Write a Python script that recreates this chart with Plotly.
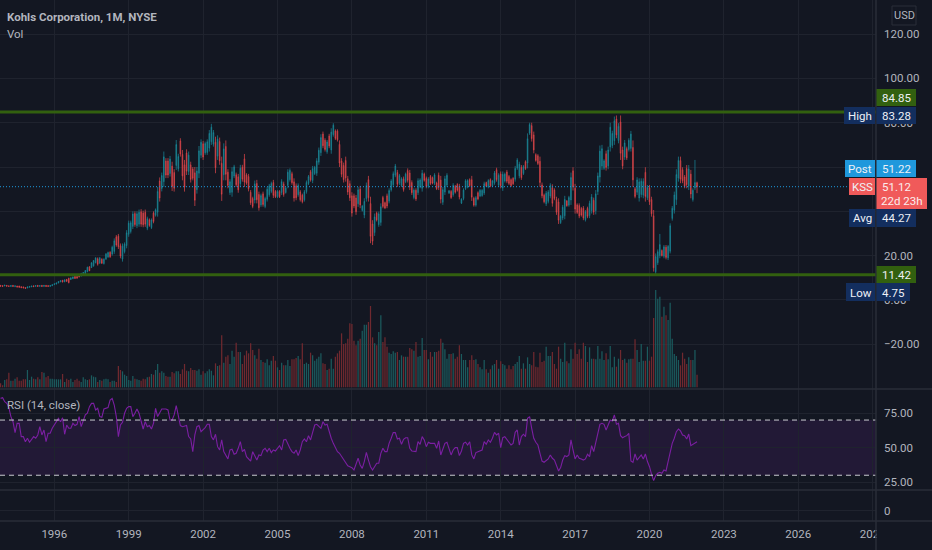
import plotly.graph_objects as go

# monthly bars, Nov 1993 - Dec 2021
high = [6.7,6.6,6.8,6.7,6.5,6.6,6.7,6.5,6.4,6.4,6.1,6.0,5.7,6.0,6.2,6.4,6.5,6.6,6.7,6.6,6.7,6.7,6.7,6.6,6.6,7.0,
 7.4,7.8,8.4,8.8,9.0,9.2,9.4,10,10.2,10.6,10.8,10.8,11.5,12.2,12.6,13.5,15,15.2,17,18,19.2,
 19.2,19.4,18.8,18.8,21.2,21.8,22,24.5,27.8,29.3,29.8,25.5,25.5,26,31.5,35.8,35.8,40,40,40,40.8,41,40.3,40.8,37.6,36.8,36.8,40,41.3,51,55.3,57.5,67,64,64,65,62.4,59,72.2,66,73,67.7,63.2,68,67,62.4,60,60,60,69.5,72.5,71.8,71.5,72.5,76.7,79.5,76.7,73.7,74.3,73.3,64.7,70.7,72,59,54.5,59.9,61,57.5,56.9,61,61,65.9,57.2,56.9,49.6,46.6,53.9,54.2,48.9,48,48.9,46.6,51,52.4,53.4,54.2,49.6,49.6,49.6,54.5,53.4,51,59,59.4,57.9,54.9,52.6,52.6,49.6,48,49.6,53.9,56.4,
 58.7,60.5,60.5,64,68.8,74.8,76,73,72.2,75,77.5,79.8,77,77,72,64,62,64.7,56,53.9,48.6,48,47.4,51,51.5,42.9,45.9,53,56,46.6,36,39,39.9,39.9,43.6,47,44.4,48,50.4,54.5,58,61.4,58.7,56.9,55.4,55.7,57.5,59.4,58.7,54,50.4,50.4,54.9,54.9,58.7,57.5,55.7,55.4,56.4,55.7,57.2,53.4,57.5,56,51,56,57.2,49.6,49.6,52.7,51.9,52.7,52.4,45.9,50.4,54.5,54.5,54.9,56,46.6,46.9,49,50,50,53.4,53.4,54.5,54.9,54.2,58.2,59.7,57.2,58,58,57.5,58.7,56.4,54.9,55.4,60.5,64,62.4,60.9,60.9,63,75.2,80,80,76,66.2,65.8,64.7,53,48,49.2,49.6,52.7,52.2,50.4,46.6,45.9,38.4,42.9,47,45.1,47,57.5,59.9,52.4,43.6,43.6,42,42.4,40.6,42.1,44.8,47.8,46.2,49.6,57.5,69.7,70,63.5,67.4,69.2,80,76.4,82.8,83.28,79.8,83.28,69.2,72.2,69.2,73,76.3,72,51,55.4,54.9,54.9,54.9,59.9,51.9,51.9,46.6,40.6,21,22.8,29.8,22.8,24.8,24.8,24.8,34.6,42.4,48.9,59,64.7,64.7,59.9,56.4,60.9,60.9,58.7,50.4,63.2,53.4]
low = [6.0,6.0,6.2,6.1,6.0,5.9,6.0,5.8,5.7,5.6,5.4,5.3,5.1,5.3,5.6,5.8,5.9,6.0,6.0,6.0,6.0,6.0,6.0,6.0,6.0,6.3,
 6.8,7.0,7.5,8.0,7.9,8.0,8.2,7.5,9.0,9.4,9.5,9.6,10.2,10.6,11,11.2,12.5,13,14.4,15,16.5,
 15.5,16.2,16.2,16,18,19,19,20,20.8,24,23,18.8,17.3,21,23.3,28.5,30,32,33,32.4,33,33,32.8,33,31.5,33,32,34.6,37.6,37.6,44.4,49,51,55,55,55.7,49.2,48.9,58.7,58,64.7,54,48.9,56.4,56.4,53,54,42.4,48,55,64,63.2,65.5,65.5,67,70,69.2,57.2,63.2,61,44.7,54,54,50.4,47.4,46.6,55,51,48.4,51,53.4,51,52,49,42.9,41.4,43.6,43.6,40.3,42,42.1,41.4,44.4,46.6,48.2,46,46,46,46,47.4,46.6,48,50.4,53.4,52,44.4,45,46.6,44.4,43.6,44.4,48,51.9,
 53.4,52.7,56.4,56,61,65,68.5,67,66,68.5,66,73.7,72.2,71.5,60,55.4,53,53.4,47.4,44.7,37.6,41.4,38.4,42,41.4,39.9,36.9,44.4,44.4,25.6,24.8,28.9,35.4,33,33.5,41.4,41,41.4,43.6,48.9,51,55.4,51,51.9,51,48.9,52.7,53,49.6,47.4,45.4,44.7,47.4,50.4,48.9,53.4,50.4,50.4,51.9,52.2,51.9,49.6,49.6,43.6,42.9,47.4,51,47.9,45.6,46.6,48,48.9,45.4,43.3,45,49.6,50.4,51,44.7,42.1,42.1,45,46.4,46.6,47.4,51,50.4,50.9,51,52,53.4,51,50.4,49.2,53,52.7,51.9,51,51.9,53.4,58.7,54.9,54.2,56.4,58.7,59.4,74.5,71.5,66.2,62.4,60.9,51,45.9,43.6,42.4,43.6,45.9,42.1,45,38.4,34.3,34.3,36,36.4,42.1,42.1,42.9,49.4,39,38.8,36.9,37.6,36,35.4,36.9,36.9,39,38.4,38.6,47.4,53,58.7,58.7,58.4,59,67,68.5,70,73,70.7,63.2,59,63.2,63.2,67,67,51,45.9,47.4,44.4,46.3,45.9,44.4,45.1,42.9,37.6,12.8,11.3,15.8,18.8,19.6,18.8,18.3,18,21,35.8,39,42.9,53.4,52.7,52.7,50.4,50.4,49.6,45.9,44.4,49.6,48.2]
open_ = [6.6,6.5,6.3,6.6,6.4,6.1,6.6,6.0,6.3,6.3,6.0,5.9,5.6,5.4,5.7,5.9,6.4,6.1,6.6,6.1,6.6,6.1,6.6,6.5,6.1,6.4,
 6.9,7.2,7.7,8.2,8.9,8.2,9.3,9.8,9.2,9.6,10.6,10.6,11.3,10.8,11.2,11.4,12.8,15,14.6,15.4,16.8,
 18.6,16.7,18.4,16.4,18.5,19.4,21.5,20.7,21.9,28.5,28.8,24.5,18.5,21.8,24.5,29.6,30.9,33.2,39,33.5,34.2,39.8,39.2,39.6,32.4,36.2,32.7,39.2,38.2,39.6,53.7,50.3,53.4,62.7,62.7,57.1,60.4,57.5,60.7,59.2,71.8,65.7,61,66.3,58,61,59.1,57.4,49.8,57.2,65.3,70.5,66.4,66.6,68.5,71.4,70.3,71.2,64.9,71.5,61.7,56.5,69.3,57.7,48.5,48.6,55.9,56.5,55.6,52.5,59.9,63.7,56.4,55.7,48.6,45.8,45.1,52.6,47.6,42.9,47.9,42.2,45.4,47.5,49,53,49,46.6,49,48.5,52.4,48.5,51.7,54.3,57,53.3,51.5,47.5,48.8,47.3,45.2,48.9,52.6,
 57.9,53.9,57,57.2,62.2,66.5,74.9,72.1,66.9,74,67.7,74.6,76.3,76.2,70.2,62.7,60.7,63,54.7,52.5,47,47,46,43.4,50,40.4,38.3,45.7,54.3,43.5,34.3,30.4,39.2,34,35,46.2,43.9,47,44.6,49.7,52,56.3,57.5,52.7,51.7,54.7,53.4,58.4,57.3,53,46.2,49.5,48.5,51.1,50.4,56.9,54.9,51.2,55.7,55.2,52.7,52.8,56.3,54.1,44.1,48.7,51.9,48.2,49,47.5,51.3,52.1,51.3,43.7,45.8,50.3,51,54.3,54.3,45.9,42.8,48.4,46.9,47.1,48.3,53,51,54.3,51.5,52.9,58.8,51.9,56.9,50.5,53.7,57.8,55.7,54.3,54.9,54.5,59.5,56,59.9,57.1,62.4,61.8,75.3,78.7,74.5,65.6,65.1,62.6,51.9,47.3,43.4,44.5,46.9,50.7,49.6,45.4,44.2,34.9,37,38,44.7,42.8,45.1,58.3,50.4,42.9,42.6,41.3,41.4,36.2,41.3,38.1,40.3,45,40.3,48.9,55.5,60.4,59.4,66,60.5,69,69.7,71.9,81.7,72,80.3,67.7,64.5,68.3,67.9,68.4,68.8,50.2,48.6,46,47.6,47.3,57.6,46.1,50.5,45.3,38,12.7,16.8,20,22.3,19.7,23.8,19,22,36.8,40.5,45.3,55,62.9,58.8,55.5,59.3,51.3,56.8,45.3,50.5,52.9]
close = [6.2,6.1,6.7,6.2,6.1,6.5,6.1,6.4,5.8,5.7,5.5,5.4,5.2,5.9,6.1,6.3,6.0,6.5,6.1,6.5,6.1,6.6,6.1,6.1,6.5,6.9,
 7.3,7.7,8.3,8.7,8.1,9.1,8.4,7.8,10,10.4,9.7,9.8,10.4,12,12.4,13.3,14.8,13.2,16.8,17.8,19,
 16.1,18.9,16.6,18.4,20.7,21.4,19.5,23.8,26.7,24.8,24,19.8,24.3,25.2,30.3,34.7,34.9,38.8,34,38.9,39.6,34.2,33.9,34.2,36.7,33.6,36.1,35.4,40.7,49,46,56.2,64.6,56.4,56.4,63.6,51.2,50.4,70.2,64.8,65.9,56,51,58.1,65.4,54.4,54.9,45,58.2,67.3,71.2,64.5,70.6,71.4,75.2,78,75.6,59.7,72.6,62.8,47.7,68.2,56.7,51.7,53.4,57.9,60.1,52,49.7,59.5,54.5,53.2,52.8,50.2,43.9,42.2,52.4,45.2,41.6,47.1,43.1,45.8,50,51.5,52.6,47.2,46.6,49,46.6,53.4,47.6,50.5,57.7,58.5,52.9,46,46.1,51.7,45.2,44.3,48.8,53,55.7,
 54.2,59.3,59.9,62.8,67.6,73.3,69.6,67.9,71.3,69.5,75.8,78.9,72.9,72.3,61.8,56.7,54.3,55.1,48.7,46.1,39.2,42.4,39.8,49.7,42.9,42.4,44.5,51.7,46.1,28.7,26.5,37.5,36.1,38.9,42.1,42.2,41.5,42.4,49.4,53.7,57,60.5,52.2,56.2,54.7,49.9,56.8,54,51,48.4,49.6,45.6,53.8,54.2,57.2,54,51.2,54.6,52.6,52.7,56.4,50.2,50.8,45.5,49.8,54.7,56.3,49.3,46.2,51.8,48.6,49.5,46.5,45.5,49.6,53.8,53.9,51.6,46.4,42.8,46.2,45.6,49.5,49.5,52.5,51.4,53.9,51.5,53.7,57.3,54.3,56.3,51.5,56.7,56.8,53.6,52.6,51.6,52.4,59.4,63.2,61.3,55.2,60.2,59.3,72.8,79.2,72.8,67.7,63,61.6,53,47,44.3,48.2,48.7,51.7,43.6,45.8,39.6,36,37.8,41.9,45.4,42.5,46.3,55.3,51,41,39.5,37.9,38.3,37,39.8,37.7,43.6,46.5,39.6,47.9,56,67.2,68.3,62.8,59.8,67.7,78,75.2,80.9,74.5,78.4,66.2,60.5,70.9,64.1,72.1,74.9,54.2,46.7,54.2,53.3,53.6,53.5,46.7,50.9,44.3,38.9,14.5,19.6,21.8,25,20,24,19.2,24.2,33.5,41.4,47.4,56.6,63,54.5,53.8,51.3,52,59.2,47.8,49.5,53,51.12]
volume = [6,3,11,12,22,10,10,13,15,10,10,12,12,26,11,16,13,12,15,12,23,22,15,17,13,13,
 12,12,12,12,20,8,13,11,13,8,11,13,10,8,15,12,11,12,18,16,15,8,11,10,12,13,12,8,10,10,8,32,26,24,19,17,11,10,17,13,12,11,10,13,12,15,16,20,19,26,35,22,24,22,17,16,16,23,21,24,24,20,27,35,25,24,29,26,26,25,27,19,24,21,24,27,25,18,36,32,33,78,37,46,48,35,55,46,67,53,53,35,48,55,51,66,56,48,43,58,41,38,37,42,33,40,47,40,30,26,37,33,33,41,32,42,42,44,47,42,66,35,37,35,
 52,48,40,43,46,51,36,35,26,28,43,28,46,51,55,81,65,66,73,96,95,70,63,70,73,85,94,94,98,122,75,66,63,83,108,68,75,61,52,50,54,52,53,41,48,46,46,46,59,57,55,68,46,47,74,56,56,42,53,46,53,53,55,73,67,57,43,50,50,51,43,46,63,50,41,41,30,41,48,41,42,35,30,27,41,27,22,27,33,35,41,28,39,35,33,28,33,27,32,35,38,47,28,36,28,45,35,33,53,31,30,52,38,40,61,47,47,53,35,28,61,43,38,67,39,36,57,43,67,50,57,43,67,62,38,60,43,43,42,62,43,54,41,51,42,62,30,46,31,43,56,41,43,37,42,43,43,72,56,38,65,40,40,61,40,46,104,146,133,136,106,121,108,101,127,73,50,47,41,33,52,43,35,45,41,41,56,19]
rsi = [85.7,86.2,83.3,82.1,79.0,72.5,68.8,60.9,67.6,67.6,58,58,54.3,56.8,53.9,55.6,58,56.8,59.2,65.2,
 59.2,62.8,54.3,60.4,60.4,64,66.4,68.4,71.2,68.8,71.7,59.7,66.4,64,64,67.6,66,66.9,72.5,65.2,
 70,73.7,74.9,79.7,82.1,82.1,77.3,78.5,72.5,72,78,78.5,79,84.5,85.7,80.9,72.5,58,66.4,68.4,
 74.9,78.5,79.7,79.7,72.5,74.9,78,74.9,68.8,63.5,68.8,65.2,66,63.5,67.6,78.5,72.5,74.9,78,78,
 78,77.3,70,70,73.7,80.4,73.7,66,65.2,65.7,66,58,56.3,47.1,59.2,65.2,66,61.6,62.8,64.5,
 66.9,66.9,58,55.6,59.7,50.7,48.3,55.6,47.1,44.2,41.8,48.3,48.8,45.2,45.9,49.5,54.3,47.1,48.8,43.5,
 41.8,40.3,47.1,44.2,41,44.7,44.2,48.3,49.5,47.1,49.5,46.4,48.3,47.6,49.5,51.4,48.3,55.6,56,52.4,
 49.5,47.1,45.9,48.3,44.2,48.3,54.3,56.3,54.3,58.7,55.6,61.1,66.4,66.9,65.2,64,68.8,66.4,66.9,61.6,
 56.8,53.1,49.5,47.1,45.9,43.5,41,38.7,36.8,36.2,35.5,33.8,38.7,42.3,37.4,35,39.9,46.6,41,
 36.2,33.8,36.2,38.7,38.7,45.9,49.5,47.1,47.1,53.1,56.8,60.9,60.9,56.3,56.8,52.4,56,57.2,57.2,49.5,
 47.6,47.6,47.1,54.3,52.4,58,55.6,50.7,53.9,53.1,53.1,53.1,49.5,54.8,44.7,49.5,53.1,53.9,49.5,44.7,
 48.3,50,50,44.2,47.6,53.1,53.9,51.9,54.3,44.7,41.8,46.4,47.1,47.6,48.3,54.3,52.4,55.6,53.9,56.8,
 61.1,59.2,60.4,50,57.2,58,55.6,53.9,51.9,53.1,61.1,62.8,51.9,58,59.7,58,71.2,72.5,64,56.8,
 53.9,51.9,45.9,40.3,39.4,40.3,41.8,44.7,42.3,41,37.4,33.1,35.5,41,44.2,43.5,44.7,55.6,48.3,41.8,
 44.7,42.3,41.8,41,41.8,45.2,43.5,51.4,47.1,53.1,60.4,66.9,67.6,66.9,62.8,66,70,69.3,73.7,66.9,
 67.6,58.7,57.2,58,58.7,60.4,40.3,39.4,45.4,41,42.8,44.7,41.8,45.4,39.9,36.2,30.7,26.1,29.7,
 31.4,32.1,31.4,33.8,33.1,39.9,47.1,53.1,56.8,61.6,63.5,62.1,59.2,58.7,56.3,59.9,51.4,52.4,53.9,54.3]

year_labels = ["1996","1999","2002","2005","2008","2011","2014","2017","2020","2023","2026","2029"]
year_bars = [26,62,98,134,170,206,242,278,314,350,386,422]   # bar number of each January
price_ticks = [120,100,80,60,40,20,0,-20]
# 60 and 40 sit fully behind the Post and Avg tags, so no text for them
price_labels = ["120.00","100.00","80.00","","","20.00","0.00","\u221220.00"]
rsi_ticks = [75,50,25]
rsi_labels = ["75.00","50.00","25.00"]
level_top = 84.85
level_bottom = 11.42
last_price = 51.12

BG = "#131722"
GRID = "#1f232e"
LINE = "#2a2e39"
TXT = "#b2b5be"
TEAL = "#1a8a9c"
RED = "#e5484c"
NAVY = "#132e5e"
GREEN = "#32600f"
FONT = "Roboto"
W, H = 932, 550
PLOT_W = 876

def fy(p):
    return 1 - p / H

def fx(p):
    return p / W

bars = list(range(len(close)))
vol_colors = ["#1b5b5e" if c >= o else "#70292f" for o, c in zip(open_, close)]

fig = go.Figure()
fig.add_trace(go.Bar(x=bars, y=volume, yaxis="y2", width=0.6, marker=dict(color=vol_colors, line=dict(width=0)), hoverinfo="skip"))
fig.add_trace(go.Candlestick(x=bars, open=open_, high=high, low=low, close=close, yaxis="y", whiskerwidth=0,
                             increasing=dict(line=dict(color=TEAL, width=0.7), fillcolor="#1f6b6b"),
                             decreasing=dict(line=dict(color=RED, width=0.7), fillcolor="#8f3a3d")))
fig.add_trace(go.Scatter(x=list(range(len(rsi))), y=rsi, yaxis="y3", mode="lines", line=dict(color="#7b1fa2", width=1.1), hoverinfo="skip"))
fig.add_trace(go.Scatter(x=[0], y=[0], yaxis="y4", mode="markers", marker=dict(opacity=0), hoverinfo="skip"))

shapes = []
# levels
for lvl in [level_top, level_bottom]:
    shapes.append(dict(type="line", xref="x domain", yref="y", x0=0, x1=1, y0=lvl, y1=lvl, line=dict(color=GREEN, width=3)))
shapes.append(dict(type="line", xref="paper", yref="y", x0=0, x1=fx(849), y0=last_price, y1=last_price,
                   line=dict(color="#1e98dc", width=1, dash="1px,2px")))
# rsi band
shapes.append(dict(type="rect", xref="x domain", yref="y3", x0=0, x1=1, y0=30, y1=70, fillcolor="rgba(126,40,180,0.14)", line=dict(width=0), layer="below"))
for lvl in [70, 30]:
    shapes.append(dict(type="line", xref="x domain", yref="y3", x0=0, x1=1, y0=lvl, y1=lvl, line=dict(color="#c9cad0", width=1, dash="5px,4px")))
# pane borders
for py in [389, 490, 521]:
    shapes.append(dict(type="line", xref="paper", yref="paper", x0=0, x1=1, y0=fy(py), y1=fy(py), line=dict(color=LINE, width=1.5)))
shapes.append(dict(type="line", xref="paper", yref="paper", x0=fx(876), x1=fx(876), y0=0, y1=1, line=dict(color=LINE, width=1.5)))
# clips the last year label at the scale edge
shapes.append(dict(type="rect", xref="paper", yref="paper", x0=fx(877), x1=1, y0=fy(548), y1=fy(523), fillcolor=BG, line=dict(width=0)))

annotations = []

def note(text, cx, cy, size=11.5, color=TXT, weight="normal", anchor="center"):
    annotations.append(dict(xref="paper", yref="paper", x=fx(cx), y=fy(cy), text=text, showarrow=False,
                            xanchor=anchor, yanchor="middle", font=dict(family=FONT, size=size, color=color, weight=weight)))

def badge(text, x0, x1, y0, y1, bg, fg="#eef0f6"):
    shapes.append(dict(type="rect", xref="paper", yref="paper", x0=fx(x0), x1=fx(x1), y0=fy(y1), y1=fy(y0), fillcolor=bg, line=dict(width=0)))
    if text:
        note(text, (x0 + x1) / 2, (y0 + y1) / 2 + 0.5, color=fg)

badge("84.85", 876.5, 916, 89, 106, GREEN)
badge("High", 844, 875, 107, 124, NAVY)
badge("83.28", 876.5, 916, 107, 124, NAVY)
badge("Post", 845, 875, 160, 177, "#1f98dc")
badge("51.22", 876.5, 916, 160, 177, "#1f98dc")
badge("KSS", 849, 875, 178, 195, "#f05a5a")
badge("", 876.5, 927, 178, 209, "#f05a5a")
note("51.12", 896.5, 186.5, color="#fbeeee")
note("22d 23h", 901.5, 201, color="#fbeeee")
badge("Avg", 849, 875, 209, 227, NAVY)
badge("44.27", 876.5, 916, 209, 227, NAVY)
badge("11.42", 876.5, 916, 266, 283, GREEN)
badge("Low", 846, 875, 283, 301, NAVY)
badge("4.75", 876.5, 910, 283, 301, NAVY)

shapes.append(dict(type="rect", xref="paper", yref="paper", x0=fx(892), x1=fx(916), y0=fy(25), y1=fy(6), fillcolor=BG, line=dict(color=LINE, width=1)))
note("USD", 904, 16, size=11)
note("Kohls Corporation, 1M, NYSE", 5, 17, weight="bold", anchor="left")
note("Vol", 5, 34, anchor="left")
note("RSI (14, close)", 5, 405, anchor="left")

axis_font = dict(family=FONT, size=11.5, color=TXT)

fig.update_layout(
    width=W, height=H, autosize=False,
    margin=dict(l=0, r=0, t=0, b=0),
    paper_bgcolor=BG, plot_bgcolor=BG,
    showlegend=False, barmode="overlay", dragmode=False, boxgap=0.55,
    shapes=shapes, annotations=annotations,
    xaxis=dict(domain=[0, fx(PLOT_W)], range=[-0.28, 423.6], anchor="y4", rangeslider=dict(visible=False), automargin=False,
               tickmode="array", tickvals=year_bars, ticktext=year_labels, tickfont=axis_font,
               gridcolor=GRID, gridwidth=1, showline=False, zeroline=False, ticks="", ticklabelstandoff=4),
    yaxis=dict(domain=[fy(389), 1], range=[-40.2, 135.4], side="right", anchor="x", automargin=False,
               tickmode="array", tickvals=price_ticks, ticktext=price_labels, tickfont=axis_font,
               gridcolor=GRID, gridwidth=1, zeroline=False, showline=False, ticks="", ticklabelstandoff=7),
    yaxis2=dict(domain=[fy(389), 1], range=[-2.5, 581], overlaying="y", visible=False, automargin=False),
    yaxis3=dict(domain=[fy(490), fy(389)], range=[19.3, 92.5], side="right", anchor="x", automargin=False,
                tickmode="array", tickvals=rsi_ticks, ticktext=rsi_labels, tickfont=axis_font,
                gridcolor=GRID, gridwidth=1, zeroline=False, showline=False, ticks="", ticklabelstandoff=7),
    yaxis4=dict(domain=[fy(521), fy(490)], range=[-7.5, 15], side="right", anchor="x", automargin=False,
                tickmode="array", tickvals=[0], ticktext=["0"], tickfont=axis_font,
                gridcolor=GRID, gridwidth=1, zeroline=False, showline=False, ticks="", ticklabelstandoff=7),
)

fig.write_html("out.html", config=dict(displayModeBar=False, staticPlot=True),
               post_script="document.body.style.margin='0';document.body.style.overflow='hidden';")
